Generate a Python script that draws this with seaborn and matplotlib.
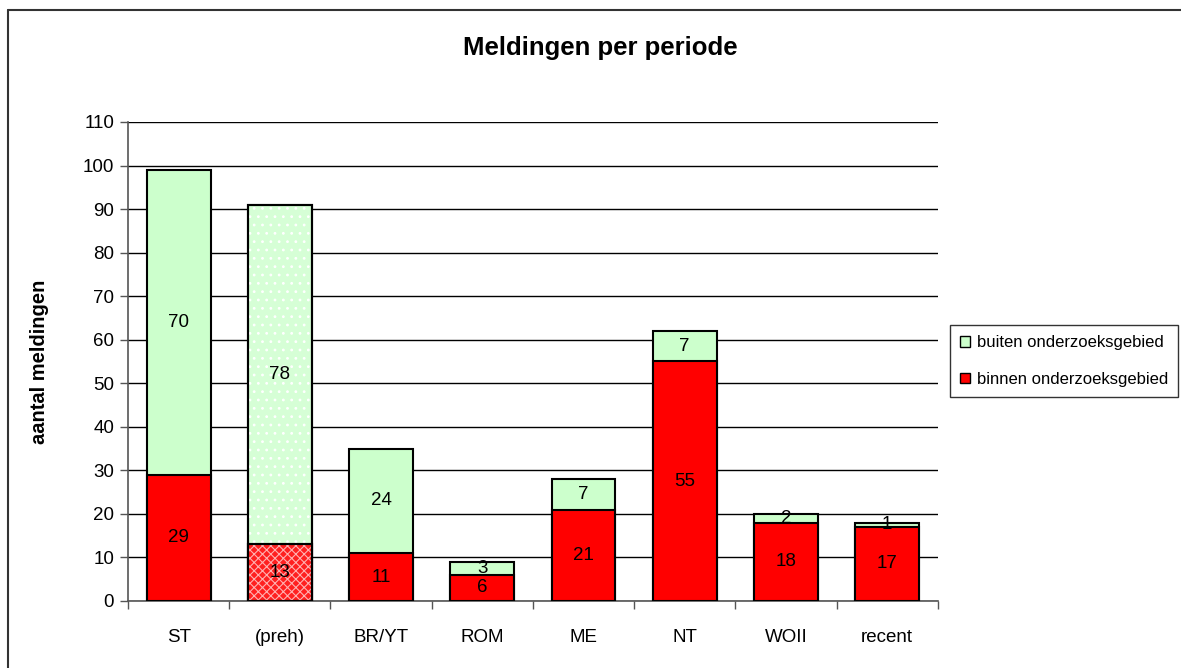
import pandas as pd
import numpy as np
import matplotlib
matplotlib.use("Agg")
import matplotlib.pyplot as plt
import seaborn as sns
from matplotlib.patches import Patch, Rectangle
from matplotlib.lines import Line2D

# data
periods = ['ST', '(preh)', 'BR/YT', 'ROM', 'ME', 'NT', 'WOII', 'recent']
binnen = [29, 13, 11, 6, 21, 55, 18, 17]
buiten = [70, 78, 24, 3, 7, 7, 2, 1]

df = pd.DataFrame({'periode': periods, 'binnen': binnen, 'buiten': buiten})
df['totaal'] = df['binnen'] + df['buiten']

green = '#CCFFCC'
red = '#FF0000'

sns.set_style('white')
plt.rcParams['font.family'] = ['Liberation Sans', 'DejaVu Sans']
plt.rcParams['text.color'] = 'black'
plt.rcParams['axes.labelcolor'] = 'black'
plt.rcParams['xtick.color'] = 'black'
plt.rcParams['ytick.color'] = 'black'
plt.rcParams['hatch.linewidth'] = 0.8

fig = plt.figure(figsize=(11.81, 6.68), dpi=100)
ax = fig.add_axes([0.1084, 0.1003, 0.6856, 0.7171])

# stacked bars: total (green) behind, binnen (red) in front
sns.barplot(data=df, x='periode', y='totaal', color=green, width=0.63,
            edgecolor='black', linewidth=1.5, saturation=1, ax=ax, zorder=3)
sns.barplot(data=df, x='periode', y='binnen', color=red, width=0.63,
            edgecolor='black', linewidth=1.5, saturation=1, ax=ax, zorder=4)

# (preh) bar is drawn with a pattern
n = len(periods)
i = periods.index('(preh)')
for p, fc, hc, ht in [(ax.patches[i], '#D6FFD6', 'white', '..'),
                      (ax.patches[n + i], '#FF2020', '#FFB0B0', 'xxxx')]:
    p.set_facecolor(fc)
    hatch = Rectangle((p.get_x(), p.get_y()), p.get_width(), p.get_height(),
                      facecolor='none', edgecolor=hc, hatch=ht,
                      linewidth=0, zorder=p.get_zorder() + 0.5)
    ax.add_patch(hatch)
    outline = Rectangle((p.get_x(), p.get_y()), p.get_width(), p.get_height(),
                        facecolor='none', edgecolor='black', linewidth=1.5,
                        zorder=p.get_zorder() + 0.6)
    ax.add_patch(outline)

# value labels
for k in range(n):
    ax.text(k, binnen[k] / 2, str(binnen[k]), ha='center', va='center',
            fontsize=13.5, zorder=6)
    ax.text(k, binnen[k] + buiten[k] / 2, str(buiten[k]), ha='center',
            va='center', fontsize=13.5, zorder=6)

ax.set_ylim(0, 110)
ax.set_xlim(-0.5, n - 0.5)
ax.set_yticks(range(0, 111, 10))
ax.yaxis.grid(True, color='black', linewidth=1)
ax.set_axisbelow(True)
ax.tick_params(axis='y', labelsize=13.5, direction='out', length=6,
               color='#555555', width=1, pad=4)
ax.tick_params(axis='x', labelsize=13.5, length=0, pad=20)
ax.set_xticks(np.arange(-0.5, n, 1), minor=True)
ax.tick_params(axis='x', which='minor', length=6, color='#555555', width=1)
for s in ['top', 'right']:
    ax.spines[s].set_visible(False)
for s in ['left', 'bottom']:
    ax.spines[s].set_color('#555555')
    ax.spines[s].set_linewidth(1.2)
ax.yaxis.set_ticks_position('left')
ax.xaxis.set_ticks_position('bottom')

ax.set_xlabel('')
ax.set_ylabel('aantal meldingen', fontsize=14.5, fontweight='bold', labelpad=24)
fig.text(600 / 1181, 1 - 48 / 668, 'Meldingen per periode', fontsize=18.5,
         fontweight='bold', ha='center', va='center')

handles = [Patch(facecolor=green, edgecolor='black', label='buiten onderzoeksgebied'),
           Patch(facecolor=red, edgecolor='black', label='binnen onderzoeksgebied')]
leg = fig.legend(handles=handles, loc='center left',
                 bbox_to_anchor=(950 / 1181, 1 - 361 / 668),
                 fontsize=12, frameon=True, fancybox=False, edgecolor='black',
                 handlelength=0.6, handleheight=0.6, handletextpad=0.4,
                 borderpad=0.6, labelspacing=1.3, borderaxespad=0)
leg.get_frame().set_linewidth(1)

# figure border (top and left)
fig.add_artist(Line2D([8 / 1181, 1], [1 - 10 / 668, 1 - 10 / 668],
                      transform=fig.transFigure, color='#333333', linewidth=1.5))
fig.add_artist(Line2D([8 / 1181, 8 / 1181], [0, 1 - 10 / 668],
                      transform=fig.transFigure, color='#333333', linewidth=1.5))

fig.savefig('out.png', dpi=100)
